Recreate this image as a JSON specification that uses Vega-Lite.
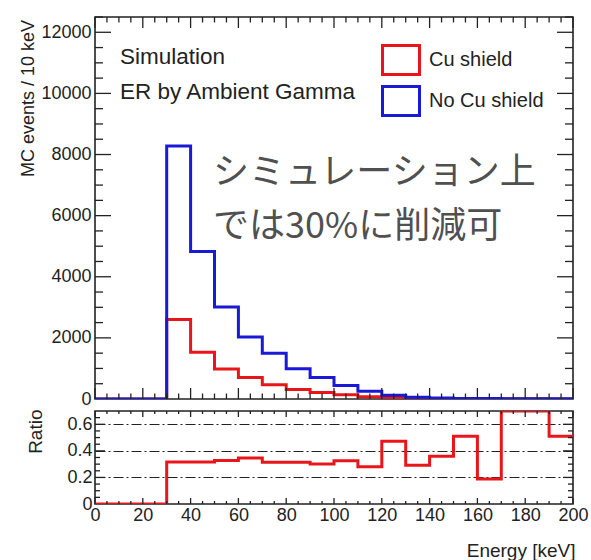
{
  "$schema": "https://vega.github.io/schema/vega-lite/v6.json",
  "background": "white",
  "padding": {"left": 18, "top": 15, "right": 0, "bottom": 0},
  "spacing": 12,
  "bounds": "flush",
  "config": {
    "view": {"stroke": "#222", "strokeWidth": 1.6},
    "font": "Liberation Sans",
    "axis": {"labelFont": "Liberation Sans", "titleFont": "Liberation Sans", "labelColor": "#222", "titleColor": "#222", "titleFontWeight": "normal", "labelFlush": false, "labelOverlap": false}
  },
  "datasets": {
    "hist": [
      {"e": 0, "series": "Cu shield", "value": 0},
      {"e": 10, "series": "Cu shield", "value": 0},
      {"e": 20, "series": "Cu shield", "value": 0},
      {"e": 30, "series": "Cu shield", "value": 2600},
      {"e": 40, "series": "Cu shield", "value": 1530},
      {"e": 50, "series": "Cu shield", "value": 980},
      {"e": 60, "series": "Cu shield", "value": 700},
      {"e": 70, "series": "Cu shield", "value": 470},
      {"e": 80, "series": "Cu shield", "value": 310},
      {"e": 90, "series": "Cu shield", "value": 212},
      {"e": 100, "series": "Cu shield", "value": 143},
      {"e": 110, "series": "Cu shield", "value": 70},
      {"e": 120, "series": "Cu shield", "value": 56},
      {"e": 130, "series": "Cu shield", "value": 17},
      {"e": 140, "series": "Cu shield", "value": 11},
      {"e": 150, "series": "Cu shield", "value": 10},
      {"e": 160, "series": "Cu shield", "value": 3},
      {"e": 170, "series": "Cu shield", "value": 7},
      {"e": 180, "series": "Cu shield", "value": 6},
      {"e": 190, "series": "Cu shield", "value": 3},
      {"e": 200, "series": "Cu shield", "value": 3},
      {"e": 0, "series": "No Cu shield", "value": 0},
      {"e": 10, "series": "No Cu shield", "value": 0},
      {"e": 20, "series": "No Cu shield", "value": 0},
      {"e": 30, "series": "No Cu shield", "value": 8280},
      {"e": 40, "series": "No Cu shield", "value": 4830},
      {"e": 50, "series": "No Cu shield", "value": 3010},
      {"e": 60, "series": "No Cu shield", "value": 2030},
      {"e": 70, "series": "No Cu shield", "value": 1500},
      {"e": 80, "series": "No Cu shield", "value": 990},
      {"e": 90, "series": "No Cu shield", "value": 700},
      {"e": 100, "series": "No Cu shield", "value": 440},
      {"e": 110, "series": "No Cu shield", "value": 250},
      {"e": 120, "series": "No Cu shield", "value": 120},
      {"e": 130, "series": "No Cu shield", "value": 60},
      {"e": 140, "series": "No Cu shield", "value": 30},
      {"e": 150, "series": "No Cu shield", "value": 20},
      {"e": 160, "series": "No Cu shield", "value": 15},
      {"e": 170, "series": "No Cu shield", "value": 10},
      {"e": 180, "series": "No Cu shield", "value": 8},
      {"e": 190, "series": "No Cu shield", "value": 6},
      {"e": 200, "series": "No Cu shield", "value": 6}
    ],
    "ratio": [
      {"e": 0, "ratio": 0},
      {"e": 10, "ratio": 0},
      {"e": 20, "ratio": 0},
      {"e": 30, "ratio": 0.316},
      {"e": 40, "ratio": 0.317},
      {"e": 50, "ratio": 0.327},
      {"e": 60, "ratio": 0.347},
      {"e": 70, "ratio": 0.315},
      {"e": 80, "ratio": 0.315},
      {"e": 90, "ratio": 0.302},
      {"e": 100, "ratio": 0.325},
      {"e": 110, "ratio": 0.28},
      {"e": 120, "ratio": 0.472},
      {"e": 130, "ratio": 0.292},
      {"e": 140, "ratio": 0.36},
      {"e": 150, "ratio": 0.51},
      {"e": 160, "ratio": 0.189},
      {"e": 170, "ratio": 0.7},
      {"e": 180, "ratio": 0.7},
      {"e": 190, "ratio": 0.51},
      {"e": 200, "ratio": 0.51}
    ],
    "xmaj": [{"v": 0}, {"v": 20}, {"v": 40}, {"v": 60}, {"v": 80}, {"v": 100}, {"v": 120}, {"v": 140}, {"v": 160}, {"v": 180}, {"v": 200}],
    "xmin": [{"v": 5}, {"v": 10}, {"v": 15}, {"v": 25}, {"v": 30}, {"v": 35}, {"v": 45}, {"v": 50}, {"v": 55}, {"v": 65}, {"v": 70}, {"v": 75}, {"v": 85}, {"v": 90}, {"v": 95}, {"v": 105}, {"v": 110}, {"v": 115}, {"v": 125}, {"v": 130}, {"v": 135}, {"v": 145}, {"v": 150}, {"v": 155}, {"v": 165}, {"v": 170}, {"v": 175}, {"v": 185}, {"v": 190}, {"v": 195}],
    "ymaj": [{"v": 2000}, {"v": 4000}, {"v": 6000}, {"v": 8000}, {"v": 10000}, {"v": 12000}],
    "ymin": [{"v": 500}, {"v": 1000}, {"v": 1500}, {"v": 2500}, {"v": 3000}, {"v": 3500}, {"v": 4500}, {"v": 5000}, {"v": 5500}, {"v": 6500}, {"v": 7000}, {"v": 7500}, {"v": 8500}, {"v": 9000}, {"v": 9500}, {"v": 10500}, {"v": 11000}, {"v": 11500}, {"v": 12500}],
    "rmaj": [{"v": 0.2}, {"v": 0.4}, {"v": 0.6}],
    "rmin": [{"v": 0.05}, {"v": 0.1}, {"v": 0.15}, {"v": 0.25}, {"v": 0.3}, {"v": 0.35}, {"v": 0.45}, {"v": 0.5}, {"v": 0.55}, {"v": 0.65}]
  },
  "resolve": {"legend": {"color": "independent"}},
  "vconcat": [
    {
      "width": 478,
      "height": 382,
      "data": {"name": "hist"},
      "resolve": {"axis": {"x": "independent", "y": "independent"}},
      "layer": [
        {
          "mark": {"type": "line", "interpolate": "step-after", "strokeWidth": 3, "clip": true},
          "encoding": {
            "x": {"field": "e", "type": "quantitative", "scale": {"domain": [0, 200], "nice": false, "zero": false}, "axis": null},
            "y": {"field": "value", "type": "quantitative", "scale": {"domain": [0, 12500], "nice": false},
              "axis": {"orient": "left", "values": [0,2000,4000,6000,8000,10000,12000], "format": "d", "ticks": false, "labelPadding": 4, "domain": false, "grid": false, "labelFontSize": 18,
                "title": "MC events / 10 keV", "titleFontSize": 18, "titleAngle": -90, "titleAnchor": "end", "titleAlign": "right", "titleBaseline": "middle", "titleX": -66.5, "titleY": 2.5}},
            "color": {"field": "series", "type": "nominal",
              "scale": {"domain": ["Cu shield", "No Cu shield"], "range": ["#e8161b", "#1a1ad6"]},
              "legend": {"orient": "none", "legendX": 286, "legendY": 23, "title": null, "padding": 0,
                "symbolType": "M-1,-0.78L1,-0.78L1,0.78L-1,0.78Z", "symbolSize": 1369, "symbolStrokeWidth": 3, "symbolFillColor": "#ffffff",
                "labelFontSize": 20, "labelFont": "Liberation Sans", "labelColor": "#222", "labelOffset": 8, "rowPadding": -3}}
          }
        },
        {
          "data": {"name": "xmaj"},
          "mark": {"type": "rule", "color": "#222", "strokeWidth": 1.3},
          "encoding": {"x": {"field": "v", "type": "quantitative", "axis": null}, "y": {"datum": 0, "type": "quantitative", "axis": null}, "y2": {"datum": 360}}
        },
        {
          "data": {"name": "xmin"},
          "mark": {"type": "rule", "color": "#222", "strokeWidth": 1.3},
          "encoding": {"x": {"field": "v", "type": "quantitative", "axis": null}, "y": {"datum": 0, "type": "quantitative", "axis": null}, "y2": {"datum": 180}}
        },
        {
          "data": {"name": "xmaj"},
          "mark": {"type": "rule", "color": "#222", "strokeWidth": 1.3},
          "encoding": {"x": {"field": "v", "type": "quantitative", "axis": null}, "y": {"datum": 12500, "type": "quantitative", "axis": null}, "y2": {"datum": 12140}}
        },
        {
          "data": {"name": "xmin"},
          "mark": {"type": "rule", "color": "#222", "strokeWidth": 1.3},
          "encoding": {"x": {"field": "v", "type": "quantitative", "axis": null}, "y": {"datum": 12500, "type": "quantitative", "axis": null}, "y2": {"datum": 12320}}
        },
        {
          "data": {"name": "ymaj"},
          "mark": {"type": "rule", "color": "#222", "strokeWidth": 1.3},
          "encoding": {"y": {"field": "v", "type": "quantitative", "axis": null}, "x": {"datum": 0, "type": "quantitative", "axis": null}, "x2": {"datum": 6.69}}
        },
        {
          "data": {"name": "ymin"},
          "mark": {"type": "rule", "color": "#222", "strokeWidth": 1.3},
          "encoding": {"y": {"field": "v", "type": "quantitative", "axis": null}, "x": {"datum": 0, "type": "quantitative", "axis": null}, "x2": {"datum": 3.35}}
        },
        {
          "data": {"name": "ymaj"},
          "mark": {"type": "rule", "color": "#222", "strokeWidth": 1.3},
          "encoding": {"y": {"field": "v", "type": "quantitative", "axis": null}, "x": {"datum": 200, "type": "quantitative", "axis": null}, "x2": {"datum": 193.31}}
        },
        {
          "data": {"name": "ymin"},
          "mark": {"type": "rule", "color": "#222", "strokeWidth": 1.3},
          "encoding": {"y": {"field": "v", "type": "quantitative", "axis": null}, "x": {"datum": 200, "type": "quantitative", "axis": null}, "x2": {"datum": 196.65}}
        },
        {
          "data": {"values": [{"t": "Simulation"}]},
          "mark": {"type": "text", "align": "left", "baseline": "alphabetic", "fontSize": 22.5, "font": "Liberation Sans", "color": "#222"},
          "encoding": {"x": {"datum": 10.44, "type": "quantitative", "axis": null}, "y": {"datum": 10950, "type": "quantitative", "axis": null}, "text": {"field": "t"}}
        },
        {
          "data": {"values": [{"t": "ER by Ambient Gamma"}]},
          "mark": {"type": "text", "align": "left", "baseline": "alphabetic", "fontSize": 22.5, "font": "Liberation Sans", "color": "#222"},
          "encoding": {"x": {"datum": 10.44, "type": "quantitative", "axis": null}, "y": {"datum": 9830, "type": "quantitative", "axis": null}, "text": {"field": "t"}}
        },
        {
          "data": {"values": [{"t": "シミュレーション上"}]},
          "mark": {"type": "text", "align": "left", "baseline": "alphabetic", "fontSize": 36, "font": "Noto Sans CJK JP", "color": "#505050"},
          "encoding": {"x": {"datum": 49.4, "type": "quantitative", "axis": null}, "y": {"datum": 7047, "type": "quantitative", "axis": null}, "text": {"field": "t"}}
        },
        {
          "data": {"values": [{"t": "では30%に削減可"}]},
          "mark": {"type": "text", "align": "left", "baseline": "alphabetic", "fontSize": 36, "font": "Noto Sans CJK JP", "color": "#505050"},
          "encoding": {"x": {"datum": 49.4, "type": "quantitative", "axis": null}, "y": {"datum": 5280, "type": "quantitative", "axis": null}, "text": {"field": "t"}}
        }
      ]
    },
    {
      "width": 478,
      "height": 93,
      "data": {"name": "ratio"},
      "resolve": {"axis": {"x": "independent", "y": "independent"}},
      "layer": [
        {
          "mark": {"type": "line", "opacity": 0},
          "encoding": {
            "x": {"field": "e", "type": "quantitative", "scale": {"domain": [0, 200], "nice": false, "zero": false}, "axis": null},
            "y": {"field": "ratio", "type": "quantitative", "scale": {"domain": [0, 0.7], "nice": false},
              "axis": {"orient": "left", "values": [0.2, 0.4, 0.6], "grid": true, "gridDash": [10, 3, 2, 3], "gridColor": "#222", "gridWidth": 1, "labels": false, "ticks": false, "domain": false, "title": null}}
          }
        },
        {
          "mark": {"type": "line", "interpolate": "step-after", "strokeWidth": 3, "color": "#e8161b", "clip": true},
          "encoding": {
            "x": {"field": "e", "type": "quantitative",
              "axis": {"orient": "bottom", "values": [0,20,40,60,80,100,120,140,160,180,200], "ticks": false, "labelPadding": 2, "domain": false, "grid": false, "labelFontSize": 18,
                "title": "Energy [keV]", "titleFontSize": 19, "titleAnchor": "end", "titleAlign": "right", "titleBaseline": "middle", "titleX": 480, "titleY": 46}},
            "y": {"field": "ratio", "type": "quantitative",
              "axis": {"orient": "left", "values": [0, 0.2, 0.4, 0.6], "format": ".1~f", "ticks": false, "labelPadding": 3, "domain": false, "grid": false, "labelFontSize": 18,
                "title": "Ratio", "titleFontSize": 19, "titleAngle": -90, "titleAnchor": "end", "titleAlign": "right", "titleBaseline": "middle", "titleX": -60, "titleY": -2}}
          }
        },
        {
          "data": {"name": "xmaj"},
          "mark": {"type": "rule", "color": "#222", "strokeWidth": 1.3},
          "encoding": {"x": {"field": "v", "type": "quantitative", "axis": null}, "y": {"datum": 0, "type": "quantitative", "axis": null}, "y2": {"datum": 0.045}}
        },
        {
          "data": {"name": "xmin"},
          "mark": {"type": "rule", "color": "#222", "strokeWidth": 1.3},
          "encoding": {"x": {"field": "v", "type": "quantitative", "axis": null}, "y": {"datum": 0, "type": "quantitative", "axis": null}, "y2": {"datum": 0.0226}}
        },
        {
          "data": {"name": "xmaj"},
          "mark": {"type": "rule", "color": "#222", "strokeWidth": 1.3},
          "encoding": {"x": {"field": "v", "type": "quantitative", "axis": null}, "y": {"datum": 0.7, "type": "quantitative", "axis": null}, "y2": {"datum": 0.655}}
        },
        {
          "data": {"name": "xmin"},
          "mark": {"type": "rule", "color": "#222", "strokeWidth": 1.3},
          "encoding": {"x": {"field": "v", "type": "quantitative", "axis": null}, "y": {"datum": 0.7, "type": "quantitative", "axis": null}, "y2": {"datum": 0.6774}}
        },
        {
          "data": {"name": "rmaj"},
          "mark": {"type": "rule", "color": "#222", "strokeWidth": 1.3},
          "encoding": {"y": {"field": "v", "type": "quantitative", "axis": null}, "x": {"datum": 0, "type": "quantitative", "axis": null}, "x2": {"datum": 4.18}}
        },
        {
          "data": {"name": "rmin"},
          "mark": {"type": "rule", "color": "#222", "strokeWidth": 1.3},
          "encoding": {"y": {"field": "v", "type": "quantitative", "axis": null}, "x": {"datum": 0, "type": "quantitative", "axis": null}, "x2": {"datum": 2.09}}
        },
        {
          "data": {"name": "rmaj"},
          "mark": {"type": "rule", "color": "#222", "strokeWidth": 1.3},
          "encoding": {"y": {"field": "v", "type": "quantitative", "axis": null}, "x": {"datum": 200, "type": "quantitative", "axis": null}, "x2": {"datum": 195.82}}
        },
        {
          "data": {"name": "rmin"},
          "mark": {"type": "rule", "color": "#222", "strokeWidth": 1.3},
          "encoding": {"y": {"field": "v", "type": "quantitative", "axis": null}, "x": {"datum": 200, "type": "quantitative", "axis": null}, "x2": {"datum": 197.91}}
        }
      ]
    }
  ]
}
